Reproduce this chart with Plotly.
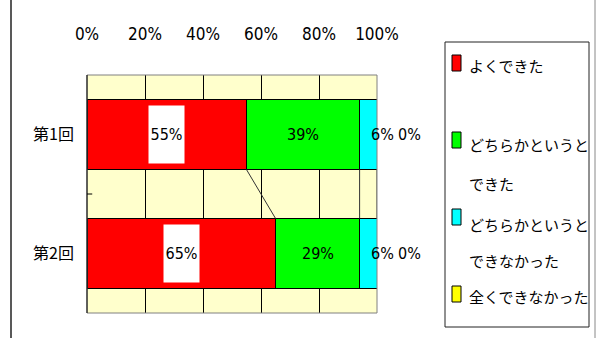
import plotly.graph_objects as go

# ---- data ----
categories = ["第1回", "第2回"]
series_names = ["よくできた", "どちらかというとできた", "どちらかというとできなかった", "全くできなかった"]
legend_lines = [["よくできた"], ["どちらかというと", "できた"], ["どちらかというと", "できなかった"], ["全くできなかった"]]
values = {
    "よくできた": [55, 65],
    "どちらかというとできた": [39, 29],
    "どちらかというとできなかった": [6, 6],
    "全くできなかった": [0, 0],
}
colors = ["#FF0000", "#00FF00", "#00FFFF", "#FFFF00"]
x_ticks = [0, 20, 40, 60, 80, 100]
x_ticktext = [f"{t}%" for t in x_ticks]

W, H = 596, 338
ML, MR, MT, MB = 87, 219, 75, 25
PW, PH = W - ML - MR, H - MT - MB

def px(x):
    return (x - ML) / PW

def py(y):
    return (H - MB - y) / PH

NUM = "DejaVu Sans Condensed, Liberation Sans Narrow, Arial Narrow, sans-serif"
JP = "Noto Sans CJK JP"
bar_w = 0.59
ypos = list(range(len(categories)))

fig = go.Figure()
for name, col in zip(series_names, colors):
    fig.add_trace(go.Bar(
        x=values[name], y=ypos, orientation="h", width=bar_w,
        marker=dict(color=col, line=dict(color="#000000", width=1)),
        name=name, showlegend=False, hoverinfo="skip",
    ))

# cumulative ends and series lines
cum = [0.0] * len(categories)
ends = []
starts = []
for name in series_names:
    s = list(cum)
    cum = [c + v for c, v in zip(cum, values[name])]
    starts.append(s)
    ends.append(list(cum))

for k in range(len(series_names) - 1):
    fig.add_trace(go.Scatter(
        x=[ends[k][0], ends[k][1]], y=[0 + bar_w / 2, 1 - bar_w / 2],
        mode="lines", line=dict(color="#333333", width=1),
        showlegend=False, hoverinfo="skip",
    ))

annotations = []
for k, name in enumerate(series_names):
    for i in ypos:
        v = values[name][i]
        center = starts[k][i] + v / 2
        a = dict(x=center, y=i, xref="x", yref="y", text=f"{v}%", showarrow=False,
                 font=dict(family=NUM, size=16, color="black"))
        if k == 0:
            a.update(bgcolor="white", width=35, height=57, borderpad=0)
        elif k == 2:
            a.update(xshift=14)
        elif k == 3:
            a.update(xshift=32)
        annotations.append(a)

# manual legend
legend_line_y = [[66], [144, 183], [224, 260], [296]]
marker_y = [63, 140, 217, 294]
shapes = []
for k, lines in enumerate(legend_lines):
    for t, yy in zip(lines, legend_line_y[k]):
        annotations.append(dict(x=px(467), y=py(yy), xref="paper", yref="paper", text=t,
                                showarrow=False, xanchor="left", yanchor="middle",
                                font=dict(family=JP, size=15, color="black")))
    shapes.append(dict(type="rect", xref="paper", yref="paper",
                       x0=px(452), x1=px(461), y0=py(marker_y[k] - 8), y1=py(marker_y[k] + 8),
                       fillcolor=colors[k], line=dict(color="black", width=1)))

shapes.append(dict(type="rect", xref="paper", yref="paper", x0=px(445), x1=px(589),
                   y0=py(42), y1=py(327), line=dict(color="#222222", width=1)))
# chart frame
shapes.append(dict(type="line", xref="paper", yref="paper", x0=px(11), x1=px(11),
                   y0=py(0), y1=py(338), line=dict(color="#222222", width=1.5)))
shapes.append(dict(type="line", xref="paper", yref="paper", x0=px(595), x1=px(595),
                   y0=py(0), y1=py(338), line=dict(color="#888888", width=1)))
# plot area border
shapes.append(dict(type="rect", xref="x domain", yref="y domain", x0=0, x1=1, y0=0, y1=1,
                   line=dict(color="#808080", width=1), layer="above"))
shapes.append(dict(type="line", xref="x domain", yref="y domain", x0=0, x1=0, y0=0, y1=1,
                   line=dict(color="#000000", width=1), layer="above"))
# category boundary tick
shapes.append(dict(type="line", xref="x domain", yref="y", x0=0, x1=0.018, y0=0.5, y1=0.5,
                   line=dict(color="#000000", width=1), layer="above"))

fig.update_layout(
    width=W, height=H, margin=dict(l=ML, r=MR, t=MT, b=MB),
    barmode="stack", paper_bgcolor="white", plot_bgcolor="#FFFFCC",
    showlegend=False, annotations=annotations, shapes=shapes,
    xaxis=dict(range=[0, 100], side="top", tickvals=x_ticks, ticktext=x_ticktext,
               showgrid=True, gridcolor="#000000", gridwidth=1, zeroline=False,
               tickfont=dict(family=NUM, size=17, color="black"),
               ticklabelstandoff=31, fixedrange=True),
    yaxis=dict(range=[1.5, -0.5], tickvals=ypos, ticktext=categories, showgrid=False,
               zeroline=False, tickfont=dict(family=JP, size=16, color="black"),
               ticklabelstandoff=12, fixedrange=True),
)

fig.write_html("out.html")
